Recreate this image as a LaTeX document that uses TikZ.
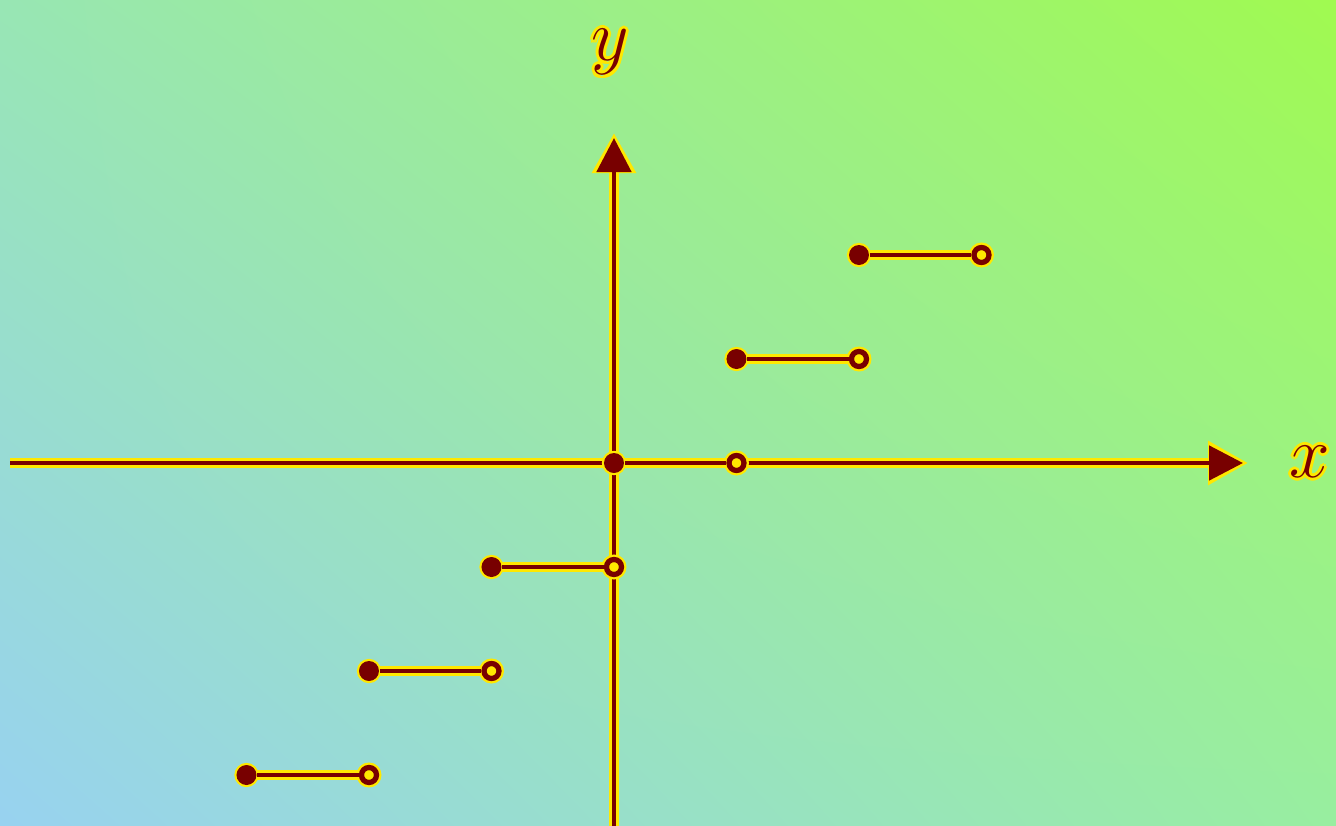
\documentclass[tikz,border=0pt]{standalone}
\usepackage{xcolor}
\usepackage{tikz}
\usetikzlibrary{arrows.meta,positioning,shadings}

\definecolor{stepred}{HTML}{780000}
\definecolor{glowyellow}{HTML}{FFE800}
\definecolor{bgtl}{HTML}{98E6B4}
\definecolor{bgtr}{HTML}{A0FA50}
\definecolor{bgbl}{HTML}{98D2F0}
\definecolor{bgbr}{HTML}{98EEA0}

% yellow halo behind a label
\newcommand\glowlabel[1]{\leavevmode
  \rlap{\kern0.9pt\textcolor{glowyellow}{#1}}%
  \rlap{\kern-0.9pt\textcolor{glowyellow}{#1}}%
  \rlap{\raisebox{0.9pt}{\textcolor{glowyellow}{#1}}}%
  \rlap{\raisebox{-0.9pt}{\textcolor{glowyellow}{#1}}}%
  \rlap{\kern0.65pt\raisebox{0.65pt}{\textcolor{glowyellow}{#1}}}%
  \rlap{\kern-0.65pt\raisebox{0.65pt}{\textcolor{glowyellow}{#1}}}%
  \rlap{\kern0.65pt\raisebox{-0.65pt}{\textcolor{glowyellow}{#1}}}%
  \rlap{\kern-0.65pt\raisebox{-0.65pt}{\textcolor{glowyellow}{#1}}}%
  #1}

\begin{document}
\begin{tikzpicture}[
  x=1.225cm, y=1.04cm,
  axis/.style={
    draw=stepred,
    line width=1.4pt,
    -{Triangle[length=3.4mm, width=3.4mm]},
    preaction={draw=glowyellow, line width=2.6pt,
      -{Triangle[length=4mm, width=4.2mm]}, shorten >=-0.5mm}
  },
  stepline/.style={
    draw=stepred,
    line width=1.4pt,
    preaction={draw=glowyellow, line width=2.6pt}
  },
  closeddot/.style={
    circle,
    fill=stepred,
    minimum size=0.2cm,
    inner sep=0pt,
    preaction={draw=glowyellow, line width=1.2pt}
  },
  opendot/.style={
    circle,
    draw=stepred,
    fill=glowyellow,
    line width=1.5pt,
    minimum size=0.15cm,
    inner sep=0pt,
    preaction={draw=glowyellow, line width=2.8pt}
  },
  axislabel/.style={
    text=stepred,
    font=\fontsize{22}{24}\selectfont,
    inner sep=0pt
  }
]
\useasboundingbox (-5.0122,-3.4808) rectangle (5.8939,4.4519);
\shade[upper left=bgtl, upper right=bgtr, lower left=bgbl, lower right=bgbr]
  (-5.0122,-3.4808) rectangle (5.8939,4.4519);

% axes
\coordinate (xstart) at (-4.93,0);
\coordinate (xend) at (5.135,0);
\coordinate (ystart) at (0,-3.49);
\coordinate (yend) at (0,3.125);
\draw[axis] (xstart) -- (xend);
\draw[axis] (ystart) -- (yend);
\node[axislabel] (xlabel) at (5.68,0.01) {\glowlabel{$x$}};
\node[axislabel] (ylabel) at (-0.03,3.95) {\glowlabel{$y$}};

% steps of the floor function
\foreach \k [count=\i] in {-3,...,2} {
  \node[closeddot] (left\i) at (\k,\k) {};
  \node[opendot] (right\i) at (\k+1,\k) {};
  \draw[stepline] (left\i) -- (right\i);
}
\end{tikzpicture}
\end{document}
